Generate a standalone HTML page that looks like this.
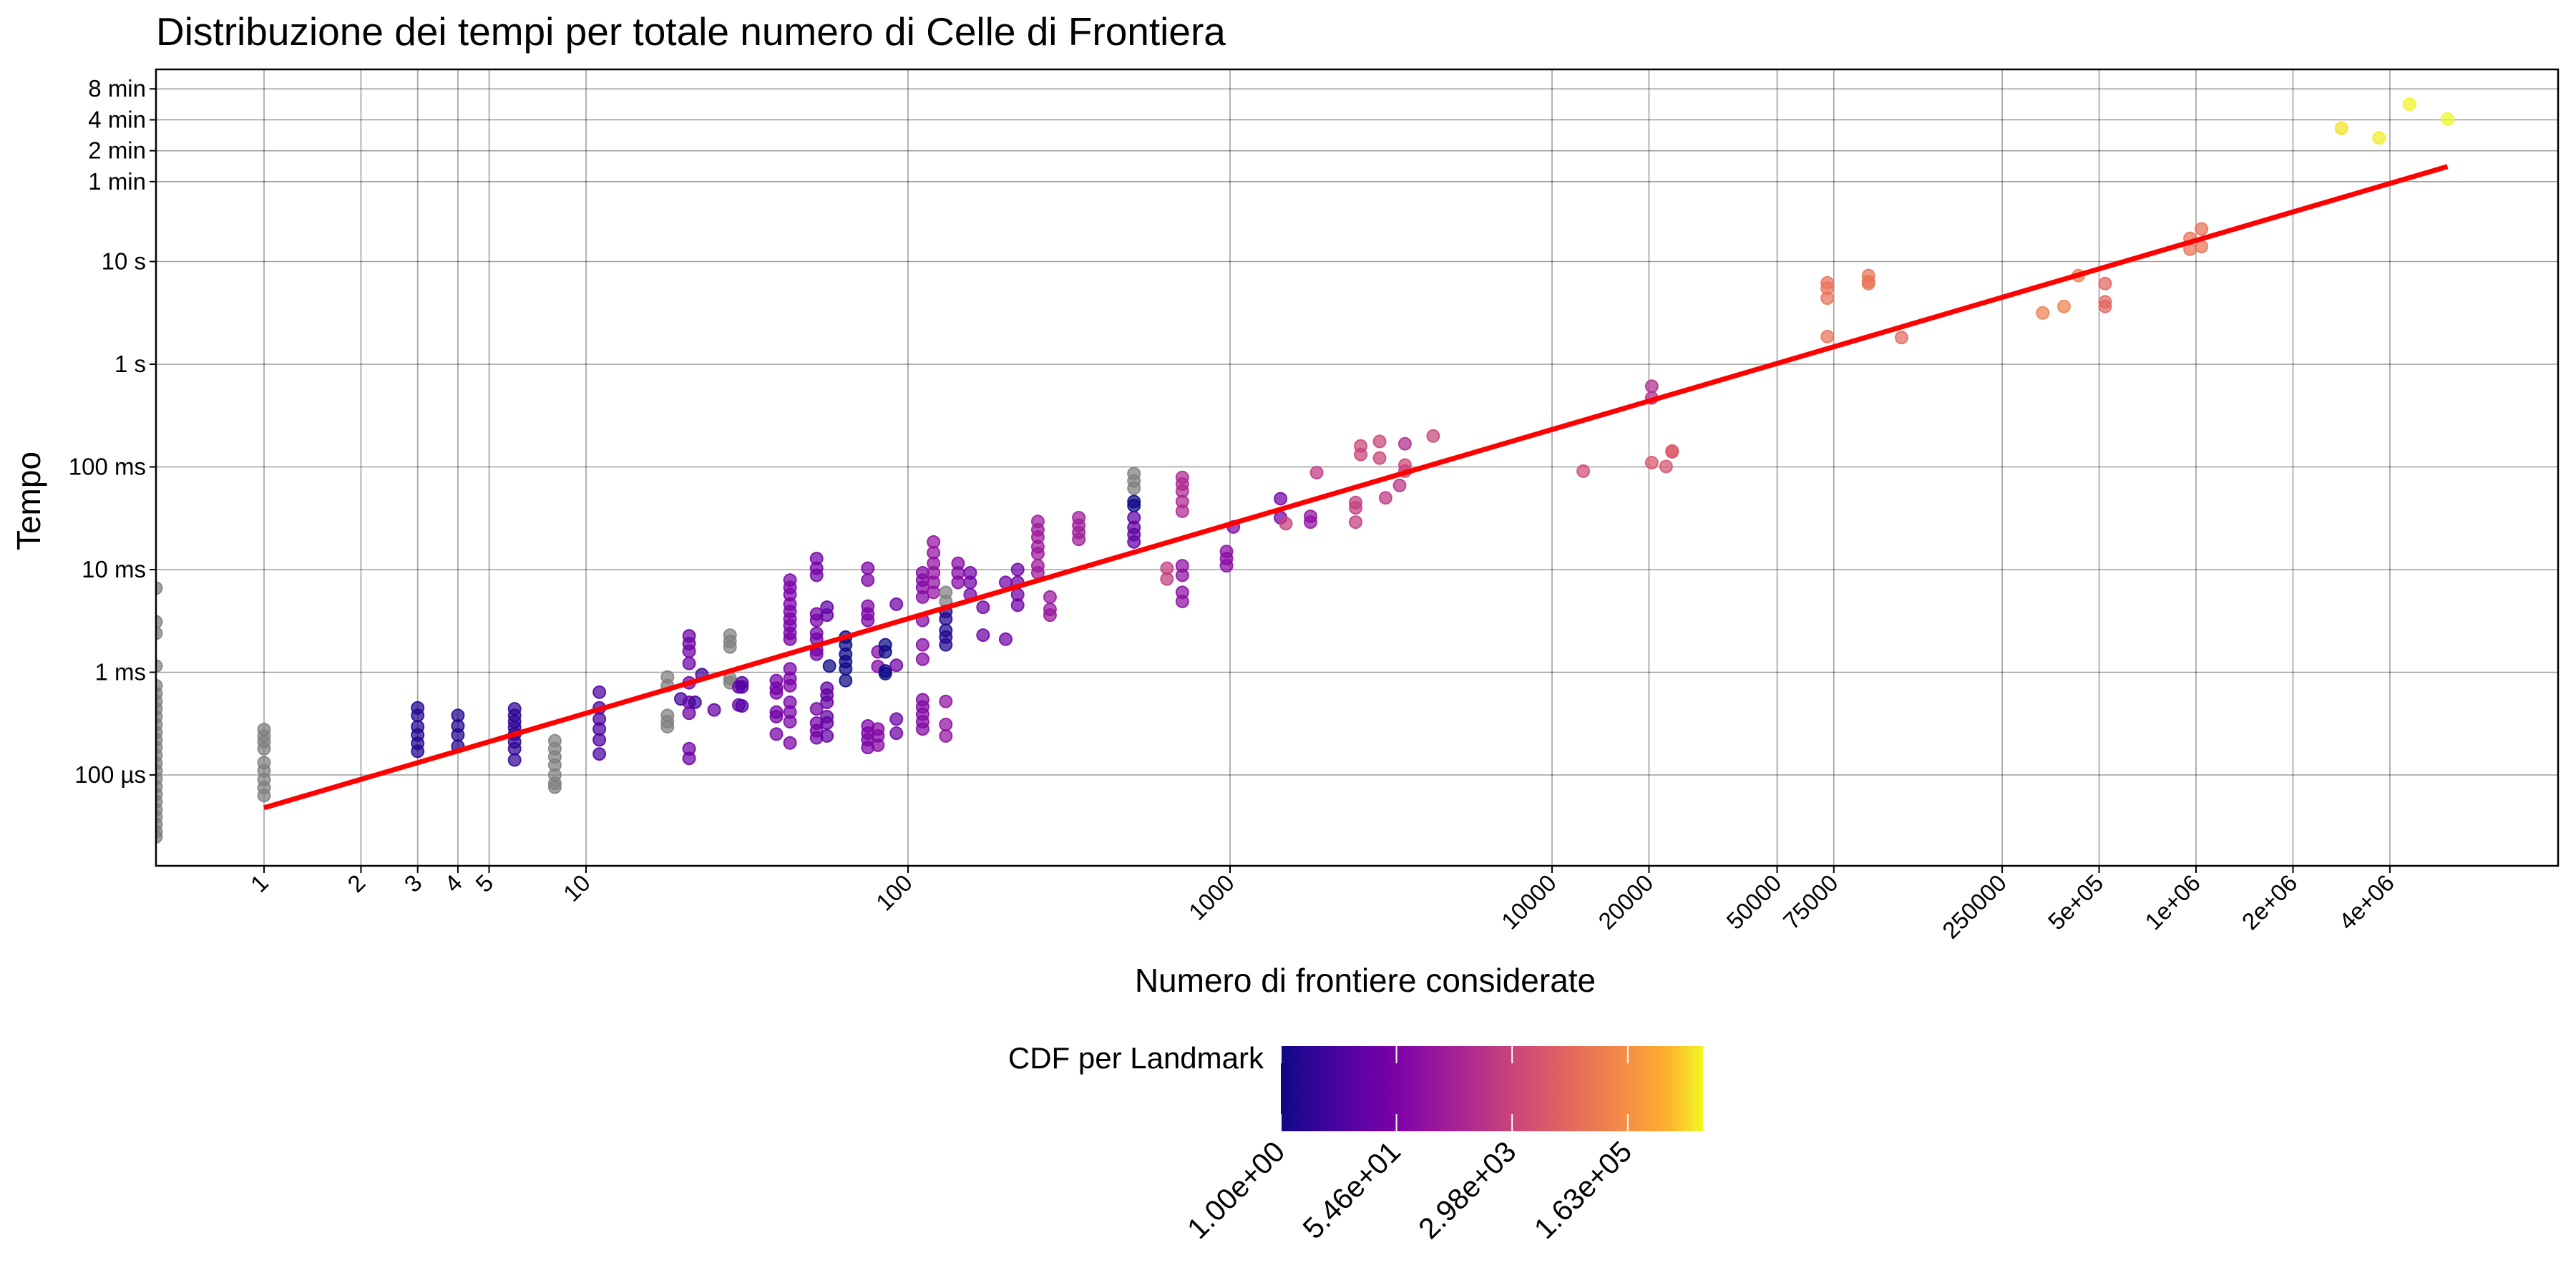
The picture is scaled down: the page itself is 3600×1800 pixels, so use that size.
<!DOCTYPE html>
<html><head><meta charset="utf-8"><style>
html,body{margin:0;padding:0;background:#fff;}
svg{display:block;font-family:"Liberation Sans",Arial,sans-serif;}
</style></head><body>
<svg id="chart" width="3600" height="1800" viewBox="0 0 3600 1800">
<text x="218" y="63" font-size="55" fill="#000">Distribuzione dei tempi per totale numero di Celle di Frontiera</text>
<defs><clipPath id="clip"><rect x="218" y="97" width="3357" height="1113"/></clipPath>
<linearGradient id="plasma" x1="0" x2="1" y1="0" y2="0">
<stop offset="0" stop-color="#0d0887"/><stop offset="0.14" stop-color="#4c02a1"/><stop offset="0.28" stop-color="#7e03a8"/><stop offset="0.42" stop-color="#a92395"/><stop offset="0.56" stop-color="#cc4778"/><stop offset="0.7" stop-color="#e66c5c"/><stop offset="0.84" stop-color="#f89540"/><stop offset="0.92" stop-color="#fdb32f"/><stop offset="1" stop-color="#f0f921"/>
</linearGradient></defs>
<g id="grid"></g>
<g id="points" clip-path="url(#clip)"></g>
<g id="fit" clip-path="url(#clip)"></g>
<rect x="218" y="97" width="3357" height="1113" fill="none" stroke="#000" stroke-width="2.5"/>
<g id="axes"></g>
<text x="1908" y="1386" font-size="46" text-anchor="middle">Numero di frontiere considerate</text>
<text transform="translate(56,700) rotate(-90)" font-size="46" text-anchor="middle">Tempo</text>
<g>
<text x="1766" y="1493" font-size="42" text-anchor="end">CDF per Landmark</text>
<rect x="1790" y="1462" width="590" height="119" fill="url(#plasma)"/>
<g id="cbar"></g>
</g>
</svg>
<script>
const xTickValues=[1,2,3,4,5,10,100,1000,10000,20000,50000,75000,250000,5e5,1e6,2e6,4e6];
const xTickLabels=["1","2","3","4","5","10","100","1000","10000","20000","50000","75000","250000","5e+05","1e+06","2e+06","4e+06"];
const yTickValues=[480,240,120,60,10,1,0.1,0.01,0.001,0.0001];
const yTickLabels=["8 min","4 min","2 min","1 min","10 s","1 s","100 ms","10 ms","1 ms","100 µs"];
const cbarTickValues=[1,54.6,2980,163000];
const cbarTickLabels=["1.00e+00","5.46e+01","2.98e+03","1.63e+05"];
const cdfMax=2.2e6;
const fitIntercept=-4.32;
const fitSlope=0.921;
const fitRange=[1,6.04e6];
const groupN=[0,1,3,4,6,8,11,17.9,19.7,20.9,21.8,22.9,25,28,29.8,30.5,39,43,52,56,57,64,75,80.6,85,92,111,120,131,131,131,143,156,171,201,219,253,276,339,503,503,503,637,711,711,975,1024,1435,1490,1778,1858,2455,2545,2914,3041,3362,3493,3493,4275,12500,20400,20400,22600,23600,71600,96100,121700,334000,389000,431000,522000,958000,1040000,2830000,3700000,4600000,6040000];
const groupCdf=[null,null,2,2,3,null,8,null,6,30,5,6,20,null,25,10,40,50,40,20,1,1,60,80,1,30,80,150,null,2,150,90,40,30,40,30,250,200,300,null,1,20,2000,600,120,100,80,40,2500,150,1500,2000,3000,3000,1500,1200,800,3000,3000,5000,8000,800,8000,10000,40000,45000,25000,70000,80000,90000,20000,40000,40000,1500000,1800000,2000000,2200000];
const groupTimes=[
[6.6e-3,3.1e-3,2.4e-3,1.15e-3,7.4e-4,6.2e-4,5.2e-4,4.4e-4,3.7e-4,3.1e-4,2.6e-4,2.2e-4,1.85e-4,1.55e-4,1.3e-4,1.1e-4,9.2e-5,7.7e-5,6.5e-5,5.5e-5,4.6e-5,3.9e-5,3.3e-5,2.8e-5,2.5e-5],
[2.77e-4,2.4e-4,2.1e-4,1.8e-4,1.32e-4,1.1e-4,9e-5,7.5e-5,6.3e-5],
[4.5e-4,3.8e-4,2.95e-4,2.45e-4,2.03e-4,1.7e-4],
[3.8e-4,3.0e-4,2.45e-4,1.9e-4],
[4.4e-4,3.8e-4,3.3e-4,2.9e-4,2.5e-4,2.1e-4,1.8e-4,1.4e-4],
[2.15e-4,1.8e-4,1.5e-4,1.25e-4,1.0e-4,8.3e-5,7.6e-5],
[6.4e-4,4.5e-4,3.5e-4,2.8e-4,2.2e-4,1.6e-4],
[9e-4,7.4e-4,3.8e-4,3.3e-4,2.95e-4],
[5.5e-4],
[2.26e-3,1.9e-3,1.6e-3,1.22e-3,7.9e-4,5.1e-4,4.0e-4,1.8e-4,1.45e-4],
[5.1e-4],
[9.5e-4],
[4.3e-4],
[2.3e-3,2.0e-3,1.76e-3,8.7e-4,7.9e-4],
[7.2e-4,4.8e-4],
[7.9e-4,7.2e-4,4.7e-4],
[8.3e-4,7.0e-4,6.3e-4,4.1e-4,3.7e-4,2.5e-4],
[7.9e-3,6.7e-3,5.7e-3,4.6e-3,3.9e-3,3.3e-3,2.85e-3,2.4e-3,2.1e-3,1.08e-3,8.7e-4,7.4e-4,5.1e-4,4.1e-4,3.3e-4,2.05e-4],
[1.28e-2,1.03e-2,8.8e-3,3.7e-3,3.2e-3,2.4e-3,2.1e-3,1.66e-3,1.5e-3,4.4e-4,3.2e-4,2.7e-4,2.3e-4],
[4.3e-3,3.6e-3,7.0e-4,6.0e-4,5.1e-4,3.7e-4,3.2e-4,2.4e-4],
[1.15e-3],
[2.2e-3,1.85e-3,1.5e-3,1.27e-3,1.08e-3,8.3e-4],
[1.03e-2,7.9e-3,4.4e-3,3.7e-3,3.2e-3,3.0e-4,2.55e-4,2.2e-4,1.85e-4],
[1.58e-3,1.14e-3,2.8e-4,2.4e-4,1.95e-4],
[1.85e-3,1.58e-3,1.03e-3,9.7e-4],
[4.6e-3,1.17e-3,3.5e-4,2.55e-4],
[9.3e-3,7.9e-3,6.7e-3,5.4e-3,3.2e-3,1.85e-3,1.34e-3,5.4e-4,4.6e-4,3.9e-4,3.3e-4,2.8e-4],
[1.86e-2,1.46e-2,1.15e-2,9.3e-3,7.5e-3,6.0e-3],
[6.0e-3,4.9e-3],
[3.9e-3,3.3e-3,2.56e-3,2.2e-3,1.85e-3],
[5.2e-4,3.1e-4,2.4e-4],
[1.15e-2,9.3e-3,7.5e-3],
[9.3e-3,7.5e-3,5.7e-3],
[4.3e-3,2.3e-3],
[7.5e-3,2.1e-3],
[1.0e-2,7.5e-3,5.7e-3,4.5e-3],
[2.94e-2,2.44e-2,2.07e-2,1.67e-2,1.43e-2,1.09e-2,9.3e-3],
[5.4e-3,4.1e-3,3.6e-3],
[3.2e-2,2.7e-2,2.3e-2,1.97e-2],
[8.6e-2,7.3e-2,6.2e-2],
[4.6e-2,4.2e-2],
[3.2e-2,2.57e-2,2.19e-2,1.86e-2],
[1.03e-2,8.1e-3],
[7.9e-2,6.8e-2,5.8e-2,4.6e-2,3.7e-2],
[1.09e-2,8.8e-3,6.0e-3,4.9e-3],
[1.5e-2,1.28e-2,1.09e-2],
[2.6e-2],
[4.9e-2,3.2e-2],
[2.8e-2],
[3.3e-2,2.9e-2],
[8.8e-2],
[4.5e-2,4.0e-2,2.9e-2],
[0.16,0.132],
[0.177,0.122],
[5.0e-2],
[6.6e-2],
[0.168],
[0.104,9.1e-2],
[0.2],
[9.1e-2],
[0.11],
[0.61,0.47],
[0.101],
[0.143,0.14],
[6.2,5.5,4.4,1.86],
[7.3,6.4,6.1],
[1.82],
[3.16],
[3.65],
[7.3],
[6.1,4.05,3.65],
[16.8,13.2],
[20.8,14.0],
[199],
[160],
[340],
[244]
];
const NS="http://www.w3.org/2000/svg";
const PL=218,PR=3575,PT=97,PB=1210;
function xScale(n){return n<=0?PL:369+450*Math.log10(n);}
function yScale(t){return 509-143.5*Math.log10(t);}
const stops=[[0,[13,8,135]],[0.14,[76,2,161]],[0.28,[126,3,168]],[0.42,[169,35,149]],[0.56,[204,71,120]],[0.7,[230,108,92]],[0.84,[248,149,64]],[0.92,[253,179,47]],[1,[240,249,33]]];
function plasma(v){v=Math.max(0,Math.min(1,v));for(let i=1;i<stops.length;i++){if(v<=stops[i][0]){const a=stops[i-1],b=stops[i];const f=(v-a[0])/(b[0]-a[0]);const c=a[1].map((x,k)=>Math.round(x+(b[1][k]-x)*f));return `rgb(${c[0]},${c[1]},${c[2]})`;}}return "rgb(240,249,33)";}
function cdfColor(c){return c==null?"#808080":plasma(Math.log(c)/Math.log(cdfMax));}
function mk(tag,attrs,parent){const e=document.createElementNS(NS,tag);for(const k in attrs)e.setAttribute(k,attrs[k]);parent.appendChild(e);return e;}
const grid=document.getElementById('grid'),axes=document.getElementById('axes');
xTickValues.forEach((v,i)=>{const x=xScale(v);
 const gl=mk('line',{x1:x,x2:x,y1:PT,y2:PB,stroke:"rgba(0,0,0,0.38)","stroke-width":1.6},grid);
 
 
 const tk=mk('line',{x1:x,x2:x,y1:PB,y2:PB+10,stroke:"#000","stroke-width":2},axes);
 
 
 const tx=mk('text',{transform:`translate(${x+8},${PB+26}) rotate(-45)`,"font-size":33,"text-anchor":"end"},axes);
 tx.textContent=xTickLabels[i];
 
 
});
yTickValues.forEach((v,i)=>{const y=yScale(v);
 const gl=mk('line',{x1:PL,x2:PR,y1:y,y2:y,stroke:"rgba(0,0,0,0.38)","stroke-width":1.6},grid);
 
 
 const tk=mk('line',{x1:PL-9,x2:PL,y1:y,y2:y,stroke:"#000","stroke-width":2},axes);
 
 
 const tx=mk('text',{x:PL-14,y:y+11,"font-size":33,"text-anchor":"end"},axes);
 tx.textContent=yTickLabels[i];
 
 
});
const pts=document.getElementById('points');
groupN.forEach((n,gi)=>{const col=cdfColor(groupCdf[gi]);
 groupTimes[gi].forEach(t=>{
  const c=mk('circle',{cx:xScale(n),cy:yScale(t),r:8.5,fill:col,"fill-opacity":0.72,stroke:col,"stroke-opacity":0.85,"stroke-width":2},pts);
  
  
 });
});
const fit=document.getElementById('fit');
const fl=mk('line',{x1:xScale(fitRange[0]),y1:yScale(Math.pow(10,fitIntercept)),x2:xScale(fitRange[1]),y2:yScale(Math.pow(10,fitIntercept+fitSlope*Math.log10(fitRange[1]))),stroke:"#ff0000","stroke-width":7},fit);


const cb=document.getElementById('cbar');
const cbx0=1790,cbw=590,lmax=Math.log(cdfMax);
cbarTickValues.forEach((v,i)=>{const x=cbx0+cbw*Math.log(v)/lmax;
 const a=mk('line',{x1:x,x2:x,y1:1462,y2:1486,stroke:"#fff","stroke-width":2},cb);
 
 
 const b=mk('line',{x1:x,x2:x,y1:1557,y2:1581,stroke:"#fff","stroke-width":2},cb);
 
 
 const tx=mk('text',{transform:`translate(${x+8},${1612}) rotate(-45)`,"font-size":41,"text-anchor":"end"},cb);
 tx.textContent=cbarTickLabels[i];
 
 
});
</script>
</body></html>
